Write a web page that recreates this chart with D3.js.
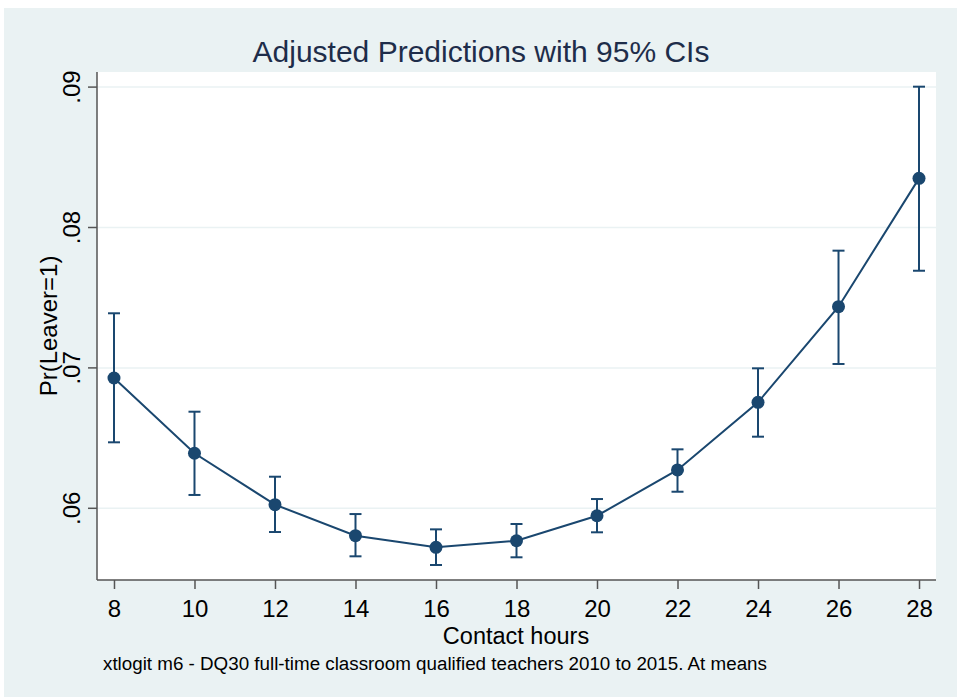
<!DOCTYPE html>
<html>
<head>
<meta charset="utf-8">
<script src="https://cdn.jsdelivr.net/npm/d3@7"></script>
<style>
  body { margin: 0; background: #fff; }
  text { font-family: "Liberation Sans", Arial, sans-serif; }
</style>
</head>
<body>
<div id="chart"></div>
<script>
// data
var hours = [8, 10, 12, 14, 16, 18, 20, 22, 24, 26, 28];
var margins = [0.06928, 0.06392, 0.06026, 0.05805, 0.05722, 0.05769, 0.05947, 0.06273, 0.06755, 0.07436, 0.0835];
var ciLow = [0.0647, 0.06095, 0.05831, 0.05658, 0.05596, 0.05651, 0.05829, 0.06118, 0.0651, 0.07028, 0.07692];
var ciHigh = [0.07389, 0.06688, 0.06225, 0.05959, 0.0585, 0.05888, 0.06066, 0.0642, 0.06997, 0.07835, 0.09003];
var yTicks = [0.06, 0.07, 0.08, 0.09];
var xTicks = [8, 10, 12, 14, 16, 18, 20, 22, 24, 26, 28];

var svgWidth = 957, svgHeight = 697;
var navy = "#1a476f";

var svg = d3.select("#chart").append("svg")
    .attr("width", svgWidth).attr("height", svgHeight);

// outer background
svg.append("rect")
    .attr("x", 4).attr("y", 8)
    .attr("width", svgWidth - 4).attr("height", svgHeight - 8)
    .attr("fill", "#eaf2f3");

var margin = {top: 72, right: 21, bottom: 117, left: 97};
var width = svgWidth - margin.left - margin.right;
var height = svgHeight - margin.top - margin.bottom;

var g = svg.append("g")
    .attr("transform", "translate(" + margin.left + " " + margin.top + ")");

// plot region
g.append("rect")
    .attr("width", width).attr("height", height)
    .attr("fill", "#fff");

var x = d3.scaleLinear()
    .domain([7.578, 28.422])
    .range([0, width]);

// .06 sits at 508.3 and .09 at 87 in page coords
var y = d3.scaleLinear()
    .domain([0.06 - (580 - 508.3) / 14040, 0.06 + (508.3 - 72) / 14040])
    .range([height, 0]);

// gridlines
g.append("g")
    .selectAll("line")
    .data(yTicks).enter().append("line")
    .attr("x1", 0).attr("x2", width)
    .attr("y1", function(d) { return y(d); })
    .attr("y2", function(d) { return y(d); })
    .attr("stroke", "#eaf2f3")
    .attr("stroke-width", 1.5);

// Y axis
var yAxis = g.append("g")
    .attr("class", "y axis")
    .call(d3.axisLeft(y).tickValues(yTicks).tickSize(9)
        .tickFormat(function(d) { return d3.format(".2f")(d).replace(/^0/, ""); }));
yAxis.select(".domain").attr("stroke", "#555").attr("stroke-width", 1.5)
    .attr("d", "M0," + height + "V0");
yAxis.selectAll(".tick").attr("transform", "translate(0,0)");
yAxis.selectAll(".tick line")
    .attr("stroke", "#555").attr("stroke-width", 1.5)
    .attr("y1", function(d) { return y(d); })
    .attr("y2", function(d) { return y(d); });
yAxis.selectAll(".tick text")
    .attr("font-size", "24px")
    .attr("fill", "#000")
    .attr("text-anchor", "middle")
    .attr("transform", "rotate(-90)")
    .attr("x", function(d) { return -y(d); })
    .attr("y", -17)
    .attr("dy", 0);

// X axis
var xAxis = g.append("g")
    .attr("class", "x axis")
    .attr("transform", "translate(0 " + height + ")")
    .call(d3.axisBottom(x).tickValues(xTicks).tickSize(9).tickFormat(d3.format("d")));
xAxis.select(".domain").attr("stroke", "#555").attr("stroke-width", 1.5)
    .attr("d", "M0,0H" + width);
xAxis.selectAll(".tick line").attr("stroke", "#555").attr("stroke-width", 1.5);
xAxis.selectAll(".tick text")
    .attr("font-size", "24px")
    .attr("fill", "#000")
    .attr("y", 37)
    .attr("dy", 0);

// connecting line
var pts = hours.map(function(h, i) {
    return {h: h, m: margins[i], lo: ciLow[i], hi: ciHigh[i]};
});

g.append("path")
    .datum(pts)
    .attr("fill", "none")
    .attr("stroke", navy)
    .attr("stroke-width", 2)
    .attr("d", d3.line()
        .x(function(d) { return x(d.h); })
        .y(function(d) { return y(d.m); }));

// error bars
var bars = g.append("g").selectAll("g")
    .data(pts).enter().append("g")
    .attr("stroke", navy)
    .attr("stroke-width", 2);
bars.append("line")
    .attr("x1", function(d) { return x(d.h); })
    .attr("x2", function(d) { return x(d.h); })
    .attr("y1", function(d) { return y(d.lo); })
    .attr("y2", function(d) { return y(d.hi); });
bars.append("line")
    .attr("x1", function(d) { return x(d.h) - 6; })
    .attr("x2", function(d) { return x(d.h) + 6; })
    .attr("y1", function(d) { return y(d.lo); })
    .attr("y2", function(d) { return y(d.lo); });
bars.append("line")
    .attr("x1", function(d) { return x(d.h) - 6; })
    .attr("x2", function(d) { return x(d.h) + 6; })
    .attr("y1", function(d) { return y(d.hi); })
    .attr("y2", function(d) { return y(d.hi); });

// markers
g.append("g").selectAll("circle")
    .data(pts).enter().append("circle")
    .attr("cx", function(d) { return x(d.h); })
    .attr("cy", function(d) { return y(d.m); })
    .attr("r", 6.5)
    .attr("fill", navy);

// titles
svg.append("text")
    .attr("x", 481).attr("y", 62)
    .attr("text-anchor", "middle")
    .attr("font-size", "30px")
    .attr("fill", "#1e2d4a")
    .text("Adjusted Predictions with 95% CIs");

svg.append("text")
    .attr("transform", "translate(57 " + (margin.top + height / 2) + ") rotate(-90)")
    .attr("text-anchor", "middle")
    .attr("font-size", "24px")
    .attr("fill", "#000")
    .text("Pr(Leaver=1)");

svg.append("text")
    .attr("x", 516).attr("y", 644)
    .attr("text-anchor", "middle")
    .attr("font-size", "23.5px")
    .attr("fill", "#000")
    .text("Contact hours");

svg.append("text")
    .attr("x", 103).attr("y", 670)
    .attr("font-size", "18.8px")
    .attr("fill", "#000")
    .text("xtlogit m6 - DQ30 full-time classroom qualified teachers 2010 to 2015. At means");
</script>
</body>
</html>
